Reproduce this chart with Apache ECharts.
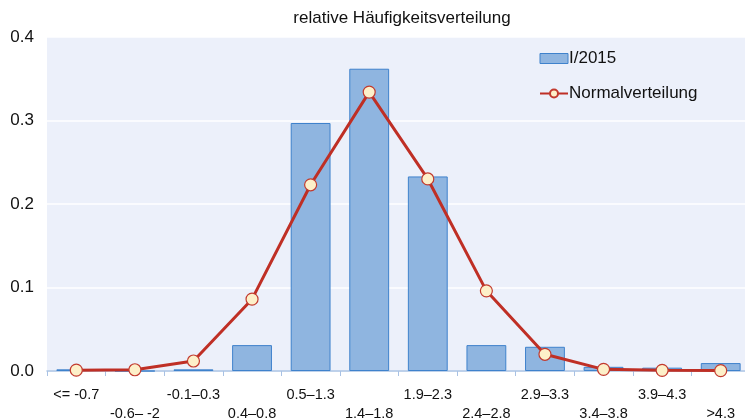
<!DOCTYPE html>
<html>
<head>
<meta charset="utf-8">
<script src="https://cdn.jsdelivr.net/npm/echarts@6/dist/echarts.min.js"></script>
<style>
    html, body { margin: 0; padding: 0; background: #ffffff; }
    #chart { width: 745px; height: 420px; }
</style>
</head>
<body>
<div id="chart"></div>
<script>
    // Klassen der Verteilung
    var categories = ['<= -0.7', '-0.6\u2013 -2', '-0.1\u20130.3', '0.4\u20130.8', '0.5\u20131.3', '1.4\u20131.8',
        '1.9\u20132.3', '2.4\u20132.8', '2.9\u20133.3', '3.4\u20133.8', '3.9\u20134.3', '>4.3'];
    // I/2015 relative Häufigkeit
    var barValues = [0.002, 0, 0.002, 0.031, 0.297, 0.362, 0.233, 0.031, 0.029, 0.005, 0.004, 0.0095];
    // Normalverteilung
    var lineValues = [0.001, 0.0015, 0.012, 0.086, 0.223, 0.334, 0.230, 0.096, 0.020, 0.002, 0.0008, 0.0005];
    var yTicks = [0, 0.1, 0.2, 0.3, 0.4];

    var font = 'Liberation Sans, Arial, sans-serif';
    var chart = echarts.init(document.getElementById('chart'));
    var options = {
        backgroundColor: '#ffffff',
        textStyle: { fontFamily: font },
        title: {
            text: 'relative Häufigkeitsverteilung',
            left: 397,
            textAlign: 'center',
            top: 5,
            textStyle: { fontSize: 17, fontWeight: 'normal', color: '#111111', fontFamily: font }
        },
        legend: {
            orient: 'vertical',
            left: 534,
            top: 45,
            itemGap: 18,
            itemWidth: 28,
            itemHeight: 10,
            textStyle: { fontSize: 17, color: '#111111', fontFamily: font, padding: [0, 0, 0, -4] },
            data: [
                { name: 'I/2015', icon: 'rect', itemStyle: { borderWidth: 1 } },
                { name: 'Normalverteilung' }
            ]
        },
        grid: {
            left: 47,
            right: -5,
            top: 37,
            bottom: 49,
            outerBoundsMode: 'none',
            containLabel: false,
            show: true,
            backgroundColor: '#ecf0fa',
            borderWidth: 0
        },
        xAxis: [
            {
                type: 'category',
                data: categories,
                boundaryGap: true,
                axisLine: { lineStyle: { color: '#a9c2e4', width: 1.5 } },
                axisTick: { show: true, length: 5, lineStyle: { color: '#a9c2e4' } },
                axisLabel: {
                    interval: 0,
                    margin: 14,
                    fontSize: 14.5,
                    lineHeight: 19,
                    color: '#111111',
                    formatter: function (value, index) {
                        return index % 2 === 1 ? '\n' + value : value;
                    }
                },
                splitLine: { show: false }
            }
        ],
        yAxis: [
            {
                type: 'value',
                min: yTicks[0],
                max: yTicks[yTicks.length - 1],
                interval: 0.1,
                axisLine: { show: false },
                axisTick: { show: false },
                axisLabel: {
                    fontSize: 17,
                    color: '#111111',
                    margin: 13,
                    formatter: function (v) { return v.toFixed(1); }
                },
                splitLine: { show: true, lineStyle: { color: '#ffffff', width: 1.5 } }
            }
        ],
        series: [
            {
                name: 'I/2015',
                type: 'bar',
                data: barValues,
                barWidth: '68%',
                itemStyle: {
                    color: '#8fb5e0',
                    borderColor: '#3f82cc',
                    borderWidth: 1
                }
            },
            {
                name: 'Normalverteilung',
                type: 'line',
                data: lineValues,
                symbol: 'circle',
                symbolSize: 12,
                lineStyle: { color: '#bf2f25', width: 3 },
                itemStyle: {
                    color: '#fdf0c9',
                    borderColor: '#c23a2e',
                    borderWidth: 1.2
                },
                z: 3
            }
        ]
    };
    chart.setOption(options);
</script>
</body>
</html>
